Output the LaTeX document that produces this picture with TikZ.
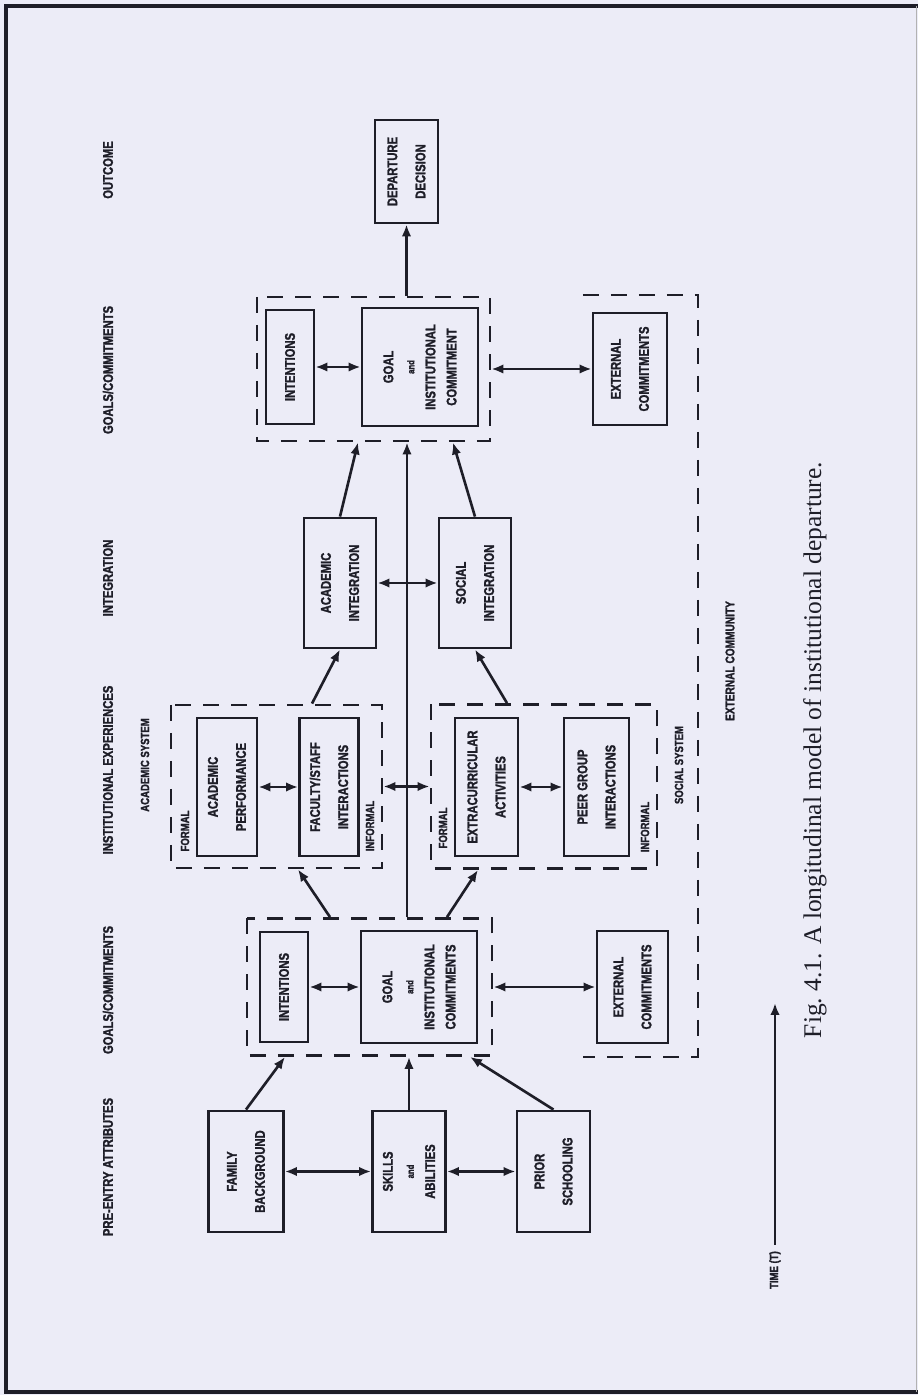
\documentclass[tikz,border=0pt]{standalone}
\usepackage{fontspec}
\setmainfont{Liberation Serif}
\newfontfamily\diagsans[FakeStretch=0.8,FakeBold=1.6]{Liberation Sans}
\usetikzlibrary{arrows.meta, positioning, calc}
\definecolor{pagecol}{RGB}{236,236,247}
\definecolor{inkcol}{RGB}{30,30,40}
\providecommand{\andw}{{\fontsize{5.5}{6}\selectfont and}}

\begin{document}
\begin{tikzpicture}[
  >={Latex[length=2.4mm,width=1.9mm]},
  blk/.style   = {draw=inkcol, line width=1.6pt, align=center, inner sep=1pt,
                  text=inkcol, font=\diagsans\bfseries\fontsize{8}{12}\selectfont},
  grp/.style   = {draw=inkcol, line width=1.6pt, dash pattern=on 3.2mm off 2.4mm,
                  inner sep=0pt},
  hd/.style    = {text=inkcol, font=\diagsans\bfseries\fontsize{8}{9}\selectfont},
  sub/.style   = {text=inkcol, font=\diagsans\bfseries\fontsize{6.8}{8}\selectfont},
  sig/.style   = {->, line width=1.5pt, draw=inkcol},
  dbl/.style   = {<->, line width=1.5pt, draw=inkcol},
  capt/.style  = {text=inkcol, font=\fontsize{14.5}{16}\selectfont},
]
\begin{scope}[rotate=90, transform shape]

% ---------- page ----------
\useasboundingbox (0,0) rectangle (27.9,18.36);
\fill[pagecol] (0,0) rectangle (27.9,18.36);
\draw[inkcol, line width=2pt] (27.78,0) -- (27.78,18.24) -- (0.06,18.24) -- (0.06,0);
\draw[gray!60, line width=0.6pt] (0.06,0.03) -- (27.78,0.03);

% ---------- column headings ----------
\node[hd] (hPre)   at (4.56,16.2)  {PRE-ENTRY ATTRIBUTES};
\node[hd] (hGoalA) at (8.10,16.2)  {GOALS/COMMITMENTS};
\node[hd] (hExp)   at (12.50,16.2) {INSTITUTIONAL EXPERIENCES};
\node[hd] (hInt)   at (16.34,16.2) {INTEGRATION};
\node[hd] (hGoalB) at (20.50,16.2) {GOALS/COMMITMENTS};
\node[hd] (hOut)   at (24.50,16.2) {OUTCOME};

% ---------- pre-entry attributes ----------
\node[blk, minimum width=2.42cm, minimum height=1.50cm] (fam) at (4.47,13.44) {FAMILY\\[4pt]BACKGROUND};
\node[blk, minimum width=2.42cm, minimum height=1.46cm] (skl) at (4.47,10.18) {SKILLS\\\andw\\ABILITIES};
\node[blk, minimum width=2.42cm, minimum height=1.46cm] (pri) at (4.47,7.29)  {PRIOR\\[4pt]SCHOOLING};

% ---------- goals/commitments (entry) ----------
\node[grp, minimum width=2.74cm, minimum height=4.90cm] (gA) at (8.16,10.97) {};
\node[blk, minimum width=2.20cm, minimum height=0.96cm] (intA)  at (8.16,12.68) {INTENTIONS};
\node[blk, minimum width=2.24cm, minimum height=2.32cm] (goalA) at (8.16,9.98)
  {GOAL\\\andw\\INSTITUTIONAL\\COMMITMENTS};
\node[blk, minimum width=2.24cm, minimum height=1.42cm] (extA)  at (8.16,5.71) {EXTERNAL\\[4pt]COMMITMENTS};

% ---------- institutional experiences ----------
\node[grp, minimum width=3.26cm, minimum height=4.22cm] (acs) at (12.17,12.83) {};
\node[grp, minimum width=3.28cm, minimum height=4.52cm] (sos) at (12.17,7.48)  {};
\node[blk, minimum width=2.76cm, minimum height=1.20cm] (perf)  at (12.16,13.82) {ACADEMIC\\[4pt]PERFORMANCE};
\node[blk, minimum width=2.76cm, minimum height=1.18cm] (fac)   at (12.16,11.78) {FACULTY/STAFF\\[4pt]INTERACTIONS};
\node[blk, minimum width=2.76cm, minimum height=1.26cm] (extra) at (12.16,8.63)  {EXTRACURRICULAR\\[4pt]ACTIVITIES};
\node[blk, minimum width=2.76cm, minimum height=1.30cm] (peer)  at (12.16,6.43)  {PEER GROUP\\[4pt]INTERACTIONS};
\node[sub] (acsF) at (11.28,14.66) {FORMAL};
\node[sub] (acsI) at (11.38,10.96) {INFORMAL};
\node[sub] (sosF) at (11.34,9.50)  {FORMAL};
\node[sub] (sosI) at (11.36,5.46)  {INFORMAL};
\node[sub] (acsL) at (12.60,15.46) {ACADEMIC SYSTEM};
\node[sub] (sosL) at (12.60,4.78)  {SOCIAL SYSTEM};

% ---------- integration ----------
\node[blk, minimum width=2.60cm, minimum height=1.44cm] (ai) at (16.24,11.56) {ACADEMIC\\[4pt]INTEGRATION};
\node[blk, minimum width=2.60cm, minimum height=1.44cm] (si) at (16.24,8.86)  {SOCIAL\\[4pt]INTEGRATION};

% ---------- goals/commitments (later) ----------
\node[grp, minimum width=2.88cm, minimum height=4.66cm] (gB) at (20.52,10.89) {};
\node[blk, minimum width=2.28cm, minimum height=0.96cm] (intB)  at (20.56,12.56) {INTENTIONS};
\node[blk, minimum width=2.36cm, minimum height=2.32cm] (goalB) at (20.56,9.96)
  {GOAL\\\andw\\INSTITUTIONAL\\COMMITMENT};
\node[blk, minimum width=2.24cm, minimum height=1.48cm] (extB)  at (20.52,5.76) {EXTERNAL\\[4pt]COMMITMENTS};

% ---------- outcome ----------
\node[blk, minimum width=2.06cm, minimum height=1.26cm] (dep) at (24.47,10.23) {DEPARTURE\\[4pt]DECISION};

% ---------- external community ----------
\coordinate (ecA) at (22.00,6.70);
\coordinate (ecB) at (22.00,4.40);
\coordinate (ecC) at (6.76,4.40);
\coordinate (ecD) at (6.76,6.70);
\draw[grp] (ecA) -- (ecB) -- (ecC) -- (ecD);
\node[sub, font=\diagsans\bfseries\fontsize{7.2}{9}\selectfont] (ecL) at (14.68,3.76) {EXTERNAL COMMUNITY};

% ---------- connectors ----------
\draw[dbl] (fam) -- (skl);
\draw[dbl] (skl) -- (pri);
\draw[sig] (fam.east) -- ($(gA.west)+(0,1.69)$);
\draw[sig] (skl.east) -- (gA.west |- skl.east);
\draw[sig] (pri.east) -- ($(gA.west)+(0,-2.01)$);
\draw[dbl] (intA) -- (goalA);
\draw[dbl] (gA) -- (extA);
\draw[sig] ($(gA.east)+(0,0.79)$) -- ($(acs.west)+(0,-0.43)$);
\draw[sig] ($(gA.east)+(0,-1.55)$) -- ($(sos.west)+(0,1.32)$);
\coordinate (mid) at ($(gA.east)+(0,-0.75)$);
\draw[sig] (mid) -- (mid -| gB.west);
\draw[dbl] (perf) -- (fac);
\draw[dbl] (extra) -- (peer);
\draw[dbl] (acs) -- (sos);
\draw[sig] ($(acs.east)+(0,-0.71)$) -- (ai.west);
\draw[sig] ($(sos.east)+(0,0.74)$) -- (si.west);
\draw[dbl] (ai) -- (si);
\draw[sig] (ai.east) -- ($(gB.west)+(0,0.31)$);
\draw[sig] (si.east) -- ($(gB.west)+(0,-1.59)$);
\draw[dbl] (intB) -- (goalB);
\draw[dbl] (gB) -- (extB);
\draw[sig] (gB.east |- dep.west) -- (dep.west);

% ---------- time axis + caption ----------
\node[sub, anchor=east] (time) at (3.00,2.86) {TIME (T)};
\coordinate (timeEnd) at (7.84,2.86);
\draw[sig] (time.east) -- (timeEnd);
\node[capt] (cap) at (12.90,2.06) {Fig.~4.1. A longitudinal model of institutional departure.};

\end{scope}
\end{tikzpicture}
\end{document}
